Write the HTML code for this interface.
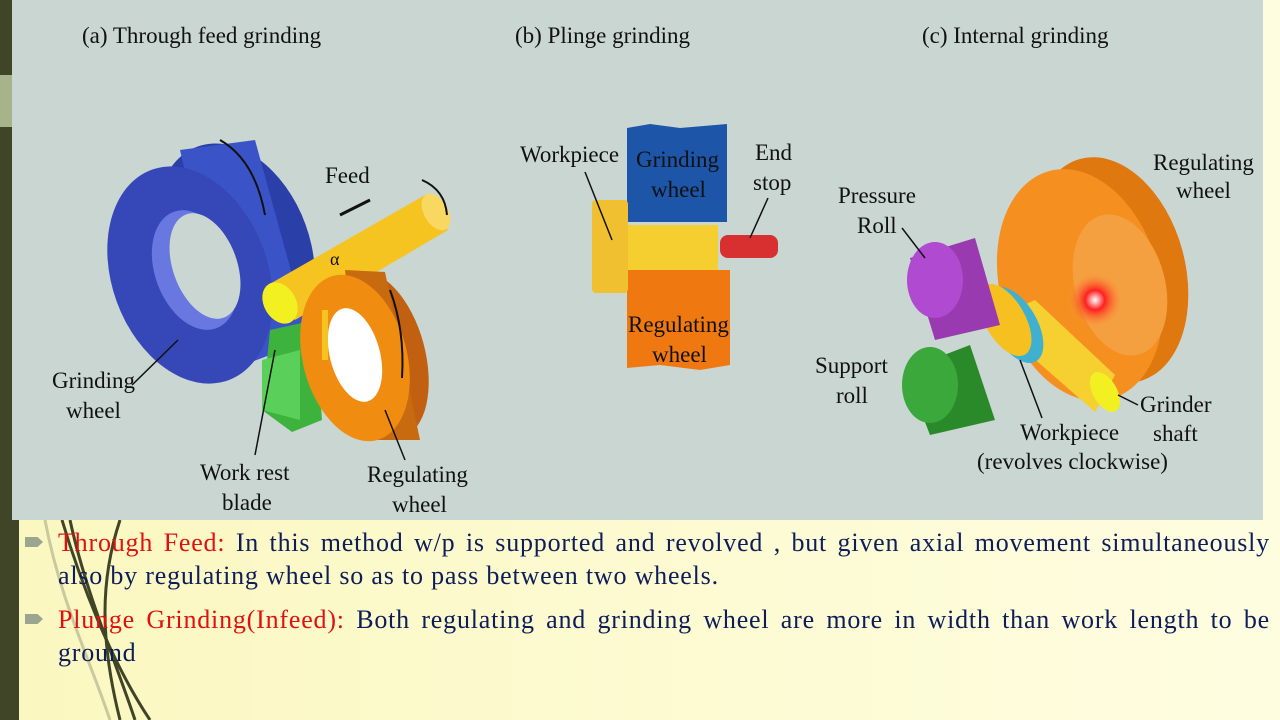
<!DOCTYPE html>
<html><head><meta charset="utf-8"><style>
html,body{margin:0;padding:0;width:1280px;height:720px;overflow:hidden;}
body{position:relative;background:linear-gradient(90deg,#fbf7c0 0%,#fdfbd4 60%,#fefde0 100%);font-family:"Liberation Serif",serif;}
#bar{position:absolute;left:0;top:0;width:19px;height:720px;background:#3f4526;}
#bar2{position:absolute;left:0;top:75px;width:12px;height:52px;background:#a7b48b;}
#img{position:absolute;left:12px;top:0;width:1251px;height:520px;background:#c9d6d2;}
.t{position:absolute;left:58px;width:1212px;font-size:26px;letter-spacing:0.8px;line-height:33px;color:#0d1d5a;text-align:justify;text-align-last:left;}
.r{color:#e01010;}
.b{position:absolute;left:25px;width:18px;height:10px;background:#9aa690;clip-path:polygon(0 0,70% 0,100% 50%,70% 100%,0 100%);}
</style></head><body>
<svg style="position:absolute;left:0;top:0" width="1280" height="720">
<g fill="none" stroke="#3f4526" stroke-width="3">
<path d="M62 520 C80 580,110 660,150 720"/><path d="M70 520 C85 590,115 660,135 720"/>
<path d="M120 520 C100 580,100 640,120 720"/>
</g>
<g fill="none" stroke="#c9c9a0" stroke-width="3"><path d="M45 520 C60 600,90 660,110 720"/></g>
</svg>
<div id="bar"></div><div id="bar2"></div>
<div id="img">
<svg width="1251" height="520" style="position:absolute;left:0;top:0" font-family="Liberation Serif,serif" font-size="23" fill="#111">
<g transform="translate(-12,0)">
<text x="82" y="43">(a) Through feed grinding</text>
<text x="515" y="43">(b) Plinge grinding</text>
<text x="922" y="43">(c) Internal grinding</text>
<!-- (a) blue wheel -->
<ellipse cx="235" cy="250" rx="75" ry="110" fill="#2a3fa8" transform="rotate(-20 235 250)"/>
<path d="M180 150 L255 140 L310 340 L230 370 Z" fill="#3a54c8"/>
<ellipse cx="190" cy="275" rx="78" ry="112" fill="#3648b8" transform="rotate(-20 190 275)"/>
<ellipse cx="195" cy="270" rx="40" ry="62" fill="#6878e0" transform="rotate(-20 195 270)"/>
<ellipse cx="205" cy="266" rx="32" ry="55" fill="#c9d6d2" transform="rotate(-20 205 266)"/>
<path d="M220 140 Q255 160 265 215" stroke="#111" stroke-width="2" fill="none"/>
<!-- work rest -->
<path d="M270 330 L315 320 L322 420 L292 432 L262 410 Z" fill="#3db33d"/>
<path d="M262 360 L300 350 L300 420 L262 410Z" fill="#5ad05a"/>
<!-- yellow shaft -->
<path d="M268 285 L425 195 L448 230 L295 320 Z" fill="#f5c420"/>
<ellipse cx="436" cy="212" rx="12" ry="20" fill="#f8d860" transform="rotate(-30 436 212)"/>
<ellipse cx="280" cy="303" rx="16" ry="22" fill="#f2f020" transform="rotate(-30 280 303)"/>
<!-- orange wheel -->
<ellipse cx="380" cy="355" rx="45" ry="85" fill="#c06010" transform="rotate(-15 380 355)"/>
<path d="M345 270 L385 272 L420 440 L365 440Z" fill="#c86a10"/>
<ellipse cx="355" cy="358" rx="52" ry="85" fill="#f08c10" transform="rotate(-15 355 358)"/>
<ellipse cx="355" cy="355" rx="25" ry="48" fill="#ffffff" transform="rotate(-15 355 355)"/>
<path d="M325 310 L325 360" stroke="#f5c420" stroke-width="6"/>
<path d="M390 290 Q405 330 402 378" stroke="#111" stroke-width="2" fill="none"/>
<path d="M340 215 L370 200" stroke="#111" stroke-width="3"/>
<text x="325" y="183">Feed</text>
<text x="330" y="265" font-size="18">α</text>
<path d="M422 180 Q445 190 447 215" stroke="#111" stroke-width="2" fill="none"/>
<text x="52" y="388">Grinding</text><text x="66" y="418">wheel</text>
<line x1="132" y1="385" x2="178" y2="340" stroke="#111" stroke-width="1.5"/>
<text x="200" y="480">Work rest</text><text x="222" y="510">blade</text>
<line x1="255" y1="455" x2="275" y2="350" stroke="#111" stroke-width="1.5"/>
<text x="367" y="482">Regulating</text><text x="392" y="512">wheel</text>
<line x1="405" y1="460" x2="385" y2="410" stroke="#111" stroke-width="1.5"/>
<!-- (b) -->
<path d="M627 128 L650 124 L680 128 L727 124 L727 222 L627 222Z" fill="#1d55a8"/>
<path d="M627 270 L730 270 L730 365 L700 370 L660 365 L627 368Z" fill="#f07810"/>
<rect x="628" y="225" width="90" height="45" fill="#f5cf30"/>
<rect x="592" y="200" width="36" height="93" rx="4" fill="#f0c030"/>
<rect x="720" y="235" width="58" height="23" rx="8" fill="#d83030"/>
<text x="636" y="167" fill="#111">Grinding</text><text x="651" y="197">wheel</text>
<text x="628" y="332">Regulating</text><text x="652" y="362">wheel</text>
<text x="520" y="162">Workpiece</text>
<line x1="585" y1="172" x2="612" y2="240" stroke="#111" stroke-width="1.5"/>
<text x="755" y="160">End</text><text x="753" y="190">stop</text>
<line x1="768" y1="198" x2="750" y2="238" stroke="#111" stroke-width="1.5"/>
<!-- (c) -->
<ellipse cx="1110" cy="270" rx="75" ry="115" fill="#e07810" transform="rotate(-15 1110 270)"/>
<ellipse cx="1080" cy="285" rx="80" ry="118" fill="#f59020" transform="rotate(-15 1080 285)"/>
<ellipse cx="1120" cy="285" rx="45" ry="72" fill="#f5a040" transform="rotate(-15 1120 285)"/>
<radialGradient id="g"><stop offset="0" stop-color="#fff"/><stop offset="0.35" stop-color="#ff2020"/><stop offset="1" stop-color="#f5a040" stop-opacity="0"/></radialGradient>
<circle cx="1095" cy="300" r="28" fill="url(#g)"/>
<path d="M990 320 L1035 300 L1115 375 L1095 412 Z" fill="#f5d030"/>
<ellipse cx="1105" cy="392" rx="12" ry="22" fill="#f2f020" transform="rotate(-30 1105 392)"/>
<ellipse cx="1015" cy="325" rx="22" ry="42" fill="#40b0d0" transform="rotate(-30 1015 325)"/>
<ellipse cx="1005" cy="320" rx="20" ry="40" fill="#f5c020" transform="rotate(-30 1005 320)"/>
<path d="M910 258 L975 238 L1000 325 L935 340Z" fill="#9a3ab0"/>
<ellipse cx="935" cy="280" rx="28" ry="38" fill="#b04ad0"/>
<path d="M905 370 L970 345 L995 420 L930 435Z" fill="#2a8a2a"/>
<ellipse cx="930" cy="385" rx="28" ry="38" fill="#3aa83a"/>
<text x="838" y="203">Pressure</text><text x="857" y="233">Roll</text>
<line x1="902" y1="228" x2="925" y2="258" stroke="#111" stroke-width="1.5"/>
<text x="1153" y="170">Regulating</text><text x="1176" y="198">wheel</text>
<text x="815" y="373">Support</text><text x="836" y="403">roll</text>
<text x="1140" y="412">Grinder</text><text x="1153" y="441">shaft</text>
<line x1="1138" y1="405" x2="1118" y2="395" stroke="#111" stroke-width="1.5"/>
<text x="1020" y="440">Workpiece</text><text x="977" y="469">(revolves clockwise)</text>
<line x1="1042" y1="418" x2="1020" y2="360" stroke="#111" stroke-width="1.5"/>
</g></svg>
</div>
<div class="b" style="top:537px"></div>
<div class="t" style="top:526px"><span class="r">Through Feed:</span> In this method w/p is supported and revolved , but given axial movement simultaneously also by regulating wheel so as to pass between two wheels.</div>
<div class="b" style="top:614px"></div>
<div class="t" style="top:603px"><span class="r">Plunge Grinding(Infeed):</span> Both regulating and grinding wheel are more in width than work length to be ground</div>
</body></html>
